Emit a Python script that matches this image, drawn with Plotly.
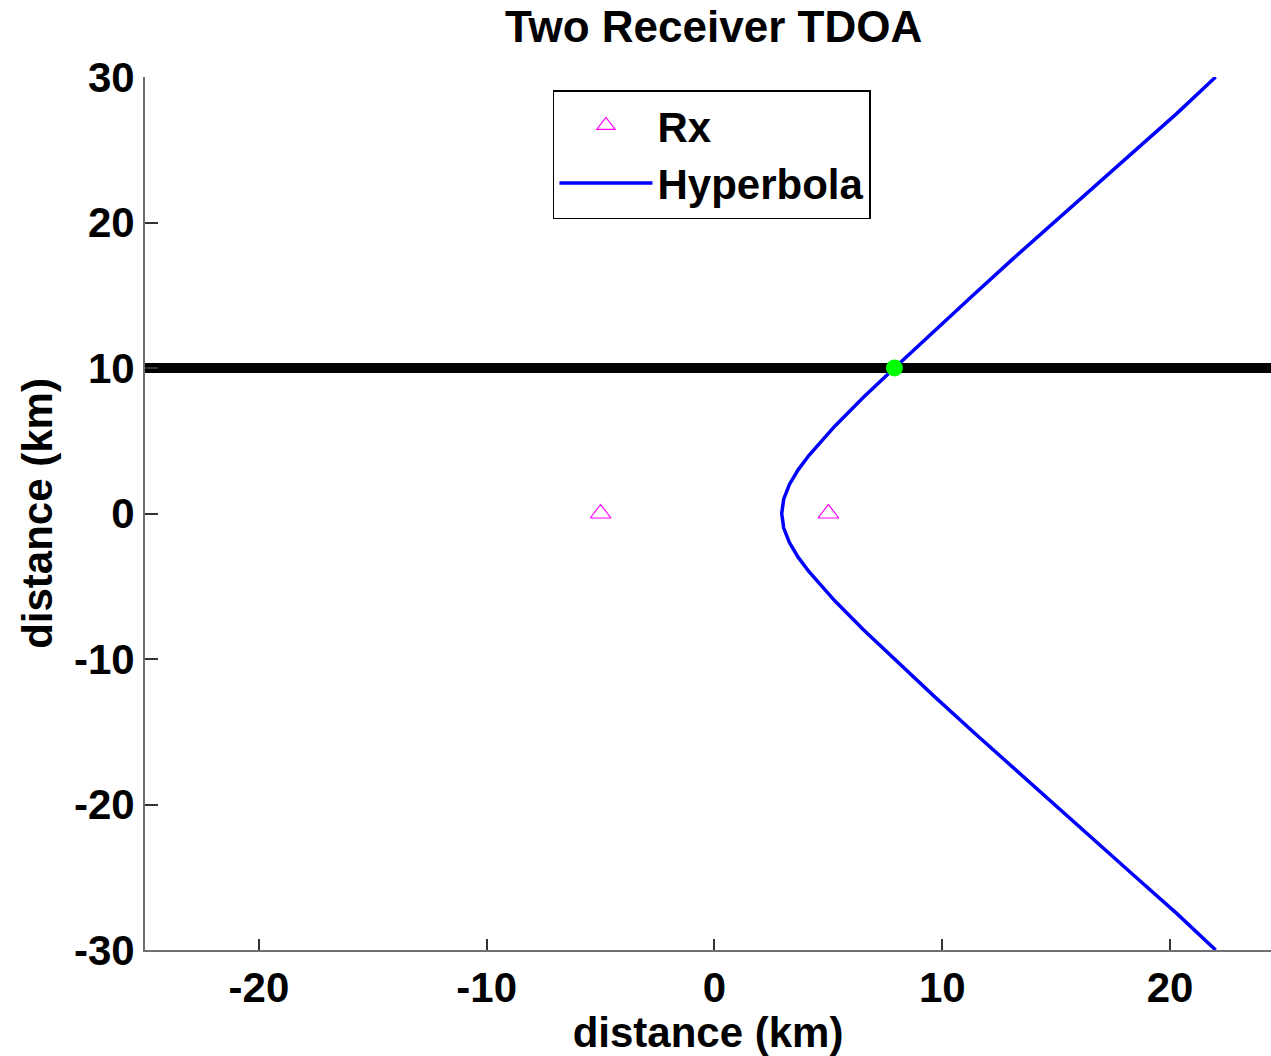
import plotly.graph_objects as go

# Receivers
rx_x = [-5, 5]
rx_y = [0, 0]

# Hyperbola points (x, y in km)
hyp_y = [-30, -27.5, -25, -22.5, -20, -17.5, -15, -12.5, -10, -8, -6, -4, -3, -2, -1,
         0, 1, 2, 3, 4, 6, 8, 10, 12.5, 15, 17.5, 20, 22.5, 25, 27.5, 30]
hyp_x = [22.0, 20.3, 18.5, 16.7, 14.9, 13.1, 11.35, 9.6, 7.9, 6.55, 5.28, 4.15, 3.67, 3.29, 3.04,
         2.95, 3.04, 3.29, 3.67, 4.15, 5.28, 6.55, 7.9, 9.6, 11.35, 13.1, 14.9, 16.7, 18.5, 20.3, 22.0]

# Horizontal constraint line
line_x = [-25, 25]
line_y = [10, 10]

# Intersection point
pt_x = [7.9]
pt_y = [10]

x_ticks = [-20, -10, 0, 10, 20]
x_ticktext = ["-20", "-10", "0", "10", "20"]
y_ticks = [-30, -20, -10, 0, 10, 20, 30]
y_ticktext = ["-30", "-20", "-10", "0", "10", "20", "30"]

FONT = "Liberation Sans"

fig = go.Figure()
fig.add_trace(go.Scatter(
    x=rx_x, y=rx_y, mode="markers", name="Rx",
    marker=dict(symbol="triangle-up-open", size=18, color="#ff00ff", line=dict(width=1.2, color="#ff00ff")),
))
fig.add_trace(go.Scatter(
    x=hyp_x, y=hyp_y, mode="lines", name="Hyperbola",
    line=dict(color="#0000ff", width=3.5),
))
fig.add_trace(go.Scatter(
    x=line_x, y=line_y, mode="lines", showlegend=False,
    line=dict(color="#000000", width=10),
))
fig.add_trace(go.Scatter(
    x=pt_x, y=pt_y, mode="markers", showlegend=False,
    marker=dict(symbol="circle", size=17, color="#00ff00"),
))

axis_font = dict(family=FONT, size=42, color="black", weight="bold")

fig.update_layout(
    width=1271, height=1056,
    margin=dict(l=145, r=0, t=77, b=106),
    paper_bgcolor="white", plot_bgcolor="white",
    title=dict(text="Two Receiver TDOA", font=dict(family=FONT, size=44, color="black", weight="bold"),
               xref="container", x=0.5614, xanchor="center",
               yref="container", y=0.975, yanchor="middle"),
    showlegend=True,
    legend=dict(
        x=0.3623, y=0.985, xanchor="left", yanchor="top",
        bgcolor="white", bordercolor="black", borderwidth=1.5,
        font=dict(family=FONT, size=42, color="black", weight="bold"),
        itemwidth=93,
    ),
    xaxis=dict(
        range=[-25, 24.43], tickvals=x_ticks, ticktext=x_ticktext, ticks="inside", ticklen=11, tickwidth=1.5,
        tickcolor="#333333", showline=True, linecolor="#707070", linewidth=2,
        showgrid=False, zeroline=False, tickfont=axis_font,
        title=dict(text="distance (km)", font=axis_font, standoff=4),
    ),
    yaxis=dict(
        range=[-30, 30], tickvals=y_ticks, ticktext=y_ticktext, ticks="inside", ticklen=13, tickwidth=1.5,
        tickcolor="#333333", showline=True, linecolor="#707070", linewidth=2,
        showgrid=False, zeroline=False, tickfont=axis_font,
        title=dict(text="distance (km)", font=axis_font, standoff=8),
    ),
)

fig.write_html("out.html")
